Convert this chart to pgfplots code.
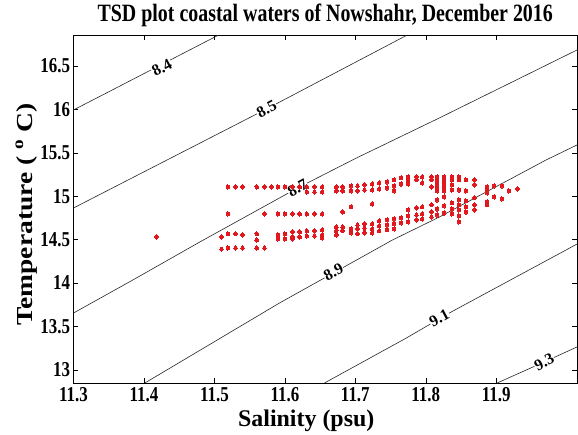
\documentclass[border=0pt]{standalone}
\usepackage{fontspec}
\setmainfont{Liberation Serif}
\usepackage{pgfplots}
\pgfplotsset{compat=1.18}
\definecolor{dotred}{RGB}{225,25,30}
\begin{document}
\begin{tikzpicture}
\begin{axis}[
  scale only axis,
  width=503.5bp, height=347.5bp,
  xmin=11.3, xmax=12.0146, ymin=12.848, ymax=16.851,
  xtick={11.3,11.4,11.5,11.6,11.7,11.8,11.9},
  ytick={13,13.5,14,14.5,15,15.5,16,16.5},
  tick align=inside,
  major tick length=5bp,
  tick style={black, line width=0.5bp},
  axis line style={black, line width=0.8bp},
  xticklabel style={/pgf/number format/fixed, /pgf/number format/precision=1, /pgf/number format/fixed zerofill},
  yticklabel style={/pgf/number format/fixed, /pgf/number format/precision=1},
  /pgf/number format/assume math mode=true,
  tick label style={font=\fontsize{17}{17}\selectfont\bfseries, black, yscale=1.25},
  title={TSD plot coastal waters of Nowshahr, December 2016},
  title style={font=\fontsize{20}{20}\selectfont\bfseries, yscale=1.25, yshift=-1bp},
  xlabel={Salinity (psu)},
  ylabel={Temperature ( \textsuperscript{o} C)},
  xlabel style={font=\fontsize{24}{24}\selectfont\bfseries, xshift=-19bp},
  ylabel style={font=\fontsize{23}{23}\selectfont\bfseries, xscale=1.2, at={(axis description cs:-0.094,0.485)}, anchor=center},
  clip=true,
]
\coordinate (BL) at (rel axis cs:0,0);
\coordinate (TR) at (rel axis cs:1,1);
% density contours
\addplot[black!85, line width=0.6bp, no marks] coordinates {(11.3,15.993) (11.5047,16.851)};
\addplot[black!85, line width=0.6bp, no marks] coordinates {(11.3,14.864) (11.574,16.005) (11.7724,16.851)};
\addplot[black!85, line width=0.6bp, no marks] coordinates {(11.3,13.654) (11.3843,14.035) (11.4792,14.472) (11.618,15.0945) (11.7016,15.44) (11.8192,15.901) (12.0146,16.684)};
\addplot[black!85, line width=0.6bp, no marks] coordinates {(11.4013,12.848) (11.5925,13.770) (11.7526,14.495) (11.8192,14.760) (11.9707,15.417) (12.0146,15.590)};
\addplot[black!85, line width=0.6bp, no marks] coordinates {(11.6562,12.848) (11.7724,13.366) (11.8333,13.654) (11.999,14.380) (12.0146,14.449)};
\addplot[black!85, line width=0.6bp, no marks] coordinates {(11.9013,12.848) (11.968,13.090) (12.0146,13.263)};
% observations
\addplot[only marks, mark=*, mark size=1.7bp, color=dotred, mark options={fill=dotred, draw=dotred, line width=0pt, yscale=1.2}] table {
x y
11.418 14.530
11.510 14.530
11.510 14.390
11.519 15.106
11.519 14.795
11.519 14.565
11.519 14.403
11.530 15.106
11.530 14.565
11.530 14.403
11.540 15.106
11.540 14.553
11.540 14.403
11.560 15.106
11.560 14.565
11.560 14.495
11.560 14.403
11.571 15.106
11.571 14.795
11.571 14.403
11.581 15.106
11.590 15.106
11.590 14.795
11.590 14.553
11.590 14.507
11.600 15.106
11.600 14.795
11.600 14.565
11.600 14.507
11.611 15.106
11.611 14.795
11.611 14.588
11.611 14.530
11.611 14.507
11.621 15.106
11.621 14.795
11.621 14.588
11.621 14.530
11.631 15.106
11.631 15.048
11.631 14.795
11.631 14.600
11.631 14.541
11.642 15.106
11.642 15.048
11.642 14.795
11.642 14.600
11.642 14.541
11.653 15.106
11.653 15.048
11.653 14.795
11.653 14.611
11.653 14.553
11.653 14.518
11.673 15.106
11.673 15.060
11.673 14.645
11.673 14.600
11.673 14.553
11.682 15.106
11.682 15.060
11.682 14.818
11.682 14.645
11.682 14.600
11.694 15.117
11.694 15.060
11.694 14.876
11.694 14.622
11.694 14.576
11.703 15.117
11.703 15.060
11.703 14.668
11.703 14.622
11.703 14.565
11.713 15.129
11.713 15.071
11.713 14.680
11.713 14.630
11.713 14.576
11.724 15.140
11.724 15.071
11.724 14.910
11.724 14.680
11.724 14.622
11.724 14.576
11.734 15.152
11.734 15.083
11.734 14.714
11.734 14.657
11.734 14.600
11.745 15.163
11.745 15.094
11.745 14.726
11.745 14.668
11.745 14.611
11.755 15.187
11.755 15.117
11.755 15.060
11.755 14.737
11.755 14.680
11.755 14.622
11.765 15.210
11.765 15.140
11.765 14.749
11.765 14.691
11.775 15.221
11.775 15.187
11.775 15.140
11.775 14.841
11.775 14.772
11.775 14.703
11.787 15.221
11.787 15.187
11.787 14.864
11.787 14.783
11.787 14.726
11.795 15.221
11.795 15.152
11.795 14.876
11.795 14.795
11.795 14.737
11.808 15.221
11.808 15.187
11.808 15.106
11.808 14.899
11.808 14.818
11.808 14.760
11.816 15.221
11.816 15.187
11.816 15.152
11.816 15.106
11.816 15.060
11.816 14.956
11.816 14.852
11.816 14.783
11.826 15.221
11.826 15.187
11.826 15.152
11.826 15.106
11.826 15.060
11.826 14.991
11.826 14.887
11.826 14.806
11.837 15.221
11.837 15.187
11.837 15.129
11.837 15.071
11.837 14.922
11.837 14.852
11.837 14.795
11.847 15.221
11.847 15.187
11.847 15.071
11.847 14.956
11.847 14.899
11.847 14.841
11.847 14.772
11.847 14.703
11.857 15.187
11.857 15.060
11.857 14.945
11.857 14.876
11.857 14.818
11.869 15.187
11.869 15.129
11.869 14.980
11.869 14.899
11.869 14.841
11.887 15.106
11.887 15.071
11.887 15.037
11.887 14.933
11.887 14.899
11.897 15.117
11.897 14.991
11.908 15.117
11.908 14.968
11.918 15.060
11.930 15.083
};
% contour labels
\begin{scope}[every node/.style={rotate=28, fill=white, inner sep=0.6bp, font=\fontsize{16}{16}\selectfont\bfseries}]
\node at (axis cs:11.4254,16.48) {8.4};
\node at (axis cs:11.574,16.005) {8.5};
\node at (axis cs:11.618,15.0945) {8.7};
\node at (axis cs:11.669,14.127) {8.9};
\node at (axis cs:11.8192,13.597) {9.1};
\node at (axis cs:11.968,13.090) {9.3};
\end{scope}
\end{axis}
\pgfresetboundingbox
\path ([shift={(-73.5bp,-52bp)}]BL) rectangle ([shift={(1bp,35.5bp)}]TR);
\end{tikzpicture}
\end{document}
